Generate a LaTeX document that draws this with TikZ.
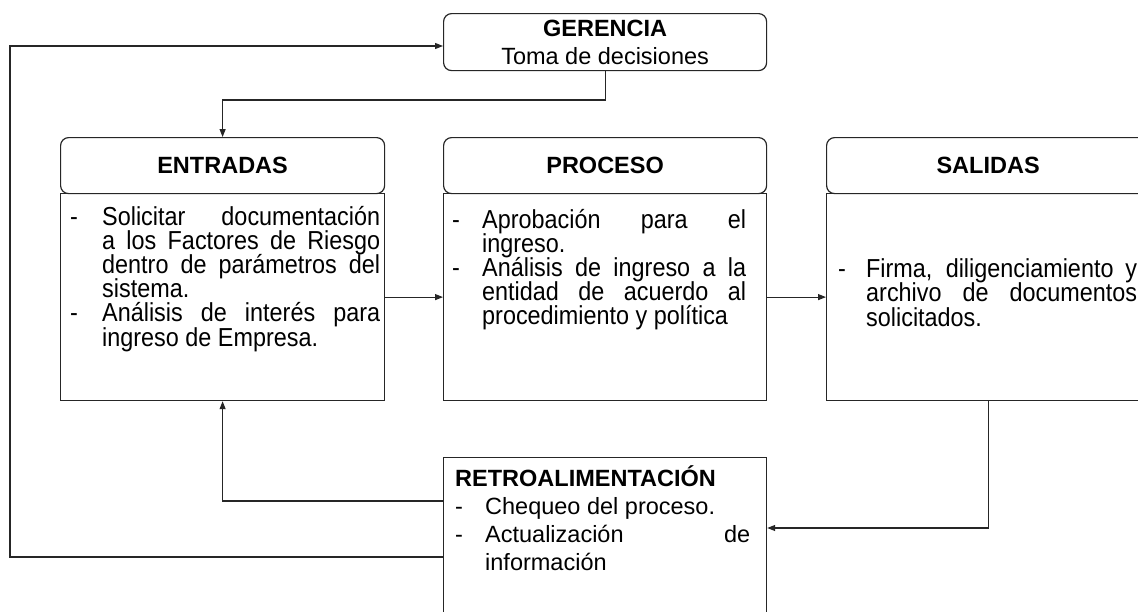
\documentclass[tikz,border=0pt]{standalone}
\usepackage{fontspec}
\setmainfont{Liberation Sans}
\newfontfamily\tallfont{Liberation Sans}[FakeStretch=0.9]
\usetikzlibrary{arrows.meta}
\newcommand{\jl}[2]{\makebox[#1][s]{#2}}
\newcommand{\bodyfont}[1]{\tallfont\fontsize{26}{#1}\selectfont}
\begin{document}
\begin{tikzpicture}[x=1pt,y=-1pt,
  every node/.style={font=\fontsize{23.5}{24.2}\selectfont, text=black},
  line/.style={draw=black!85, line width=1.2pt},
  rbox/.style={line, rounded corners=8pt, inner sep=0pt, anchor=north west},
  sbox/.style={line, inner sep=0pt, anchor=north west},
  conn/.style={line, -{Triangle[length=8pt,width=6pt]}},
  txt/.style={inner sep=0pt, anchor=base west}]
\fill[white] (0,0) rectangle (1138,611);
\useasboundingbox (0,0) rectangle (1138,611);

% boxes
\node[rbox, minimum width=323pt, minimum height=57pt, align=center,
      font=\fontsize{23.5}{28}\selectfont] (ger) at (443,13)
      {\textbf{GERENCIA}\\Toma de decisiones};
\node[rbox, minimum width=324pt, minimum height=56pt] (entH) at (60,137) {\textbf{ENTRADAS}};
\node[sbox, minimum width=324pt, minimum height=207pt] (entB) at (60,193) {};
\node[rbox, minimum width=323pt, minimum height=56pt] (proH) at (443,137) {\textbf{PROCESO}};
\node[sbox, minimum width=323pt, minimum height=207pt] (proB) at (443,193) {};
\node[rbox, minimum width=323pt, minimum height=56pt] (salH) at (826,137) {\textbf{SALIDAS}};
\node[sbox, minimum width=323pt, minimum height=207pt] (salB) at (826,193) {};
\node[sbox, minimum width=323pt, minimum height=170pt] (ret) at (443,457) {};

% texts
\node[txt] (entT) at (70,225) {\parbox[t]{310pt}{\bodyfont{24.2pt}\lineskiplimit=-100pt\relax
\makebox[32pt][l]{-}\jl{278pt}{Solicitar documentación}\\
\hspace*{32pt}\jl{278pt}{a los Factores de Riesgo}\\
\hspace*{32pt}\jl{278pt}{dentro de parámetros del}\\
\hspace*{32pt}sistema.\\
\makebox[32pt][l]{-}\jl{278pt}{Análisis de interés para}\\
\hspace*{32pt}ingreso de Empresa.}};

\node[txt] (proT) at (452,228) {\parbox[t]{294pt}{\bodyfont{24.2pt}\lineskiplimit=-100pt\relax
\makebox[30pt][l]{-}\jl{264pt}{Aprobación para el}\\
\hspace*{30pt}ingreso.\\
\makebox[30pt][l]{-}\jl{264pt}{Análisis de ingreso a la}\\
\hspace*{30pt}\jl{264pt}{entidad de acuerdo al}\\
\hspace*{30pt}procedimiento y política}};

\node[txt] (salT) at (838,277) {\parbox[t]{299pt}{\bodyfont{24.8pt}\lineskiplimit=-100pt\relax
\makebox[28pt][l]{-}\jl{271pt}{Firma, diligenciamiento y}\\
\hspace*{28pt}\jl{271pt}{archivo de documentos}\\
\hspace*{28pt}solicitados.}};

\node[txt, font=\fontsize{23.5}{28}\selectfont] (retT) at (455,486) {\parbox[t]{300pt}{%
\textbf{RETROALIMENTACIÓN}\\
\makebox[30pt][l]{-}Chequeo del proceso.\\
\makebox[30pt][l]{-}\jl{265pt}{Actualización de}\\
\hspace*{30pt}información}};

% connectors
\draw[conn] (ger.south) -- (ger.south |- 0,100) -| (entH.north);
\draw[conn] (entB.east) -- (proB.west);
\draw[conn] (proB.east) -- (salB.west);
\draw[conn] (salB.south) |- (ret.east |- 0,528);
\draw[conn] (ret.west |- 0,501) -| (entB.south);
\draw[conn] (ret.west |- 0,557) -| (10,46) -- (ger.west |- 0,46);
\end{tikzpicture}
\end{document}
